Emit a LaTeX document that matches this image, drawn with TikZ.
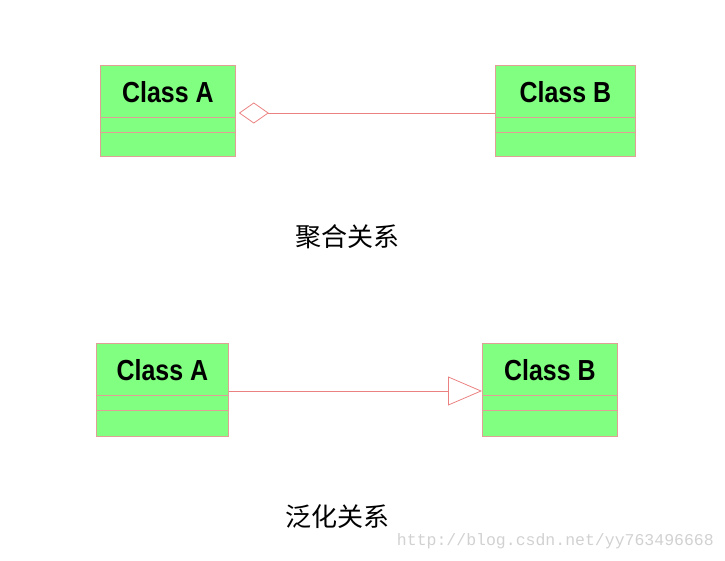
\documentclass[tikz,border=0pt]{standalone}
\usepackage{fontspec}
\setmainfont{Liberation Sans}
\newfontfamily\cjk{Noto Sans CJK SC}
\newfontfamily\urlfont{Liberation Mono}
\usetikzlibrary{arrows.meta, calc, positioning}
\definecolor{umlGreen}{RGB}{128,255,128}
\definecolor{umlEdge}{RGB}{224,160,150}
\definecolor{umlLine}{RGB}{235,130,130}
\tikzset{
    classBox/.style={rectangle, draw=umlEdge, fill=umlGreen, line width=0.8pt, inner sep=0pt, anchor=north west},
    className/.style={font=\fontsize{29}{29}\selectfont\bfseries, inner sep=0pt},
    classDiv/.style={draw=umlEdge, line width=0.8pt},
    relAggr/.style={-{Diamond[open, length=30pt, width=21pt]}, draw=umlLine, line width=0.8pt},
    relGen/.style={-{Triangle[open, length=34pt, width=29pt]}, draw=umlLine, line width=0.8pt},
    relLabel/.style={font=\cjk\fontsize{26}{26}\selectfont, inner sep=0pt},
}
% 类框: 名称, 左上角, 宽, 高, 标题
\newcommand{\drawClass}[6]{
    \node[classBox, minimum width=#4pt, minimum height=#5pt] (#1) at (#2,#3) {};
    \node[className] (#1t) at ($(#1.north)+(0,27)$) {\scalebox{0.86}[1]{#6}};
    \draw[classDiv] ($(#1.north west)+(0,52)$) -- ($(#1.north east)+(0,52)$);
    \draw[classDiv] ($(#1.north west)+(0,67)$) -- ($(#1.north east)+(0,67)$);
}
\begin{document}
\begin{tikzpicture}[x=1pt, y=-1pt]
        \useasboundingbox (0,0) rectangle (725,561);

        % 聚合关系
        \drawClass{A1}{100}{65}{135}{91}{Class A}
        \drawClass{B1}{495}{65}{140}{91}{Class B}
        \coordinate (a1) at ($(A1.north east)+(3,48)$);
        \draw[relAggr] (B1.west |- a1) -- (a1);
        \node[relLabel] (L1) at (347,237) {聚合关系};

        % 泛化关系
        \drawClass{A2}{96}{343}{132}{93}{Class A}
        \drawClass{B2}{482}{343}{135}{93}{Class B}
        \coordinate (b2) at ($(B2.north west)+(0,48)$);
        \draw[relGen] (A2.east |- b2) -- (b2);
        \node[relLabel] (L2) at (337,517) {泛化关系};

        \node[font=\urlfont\fontsize{16.5}{16.5}\selectfont, text=black!18, inner sep=0pt, anchor=east] (url) at (714,541) {http://blog.csdn.net/yy763496668};
    \end{tikzpicture}
\end{document}
